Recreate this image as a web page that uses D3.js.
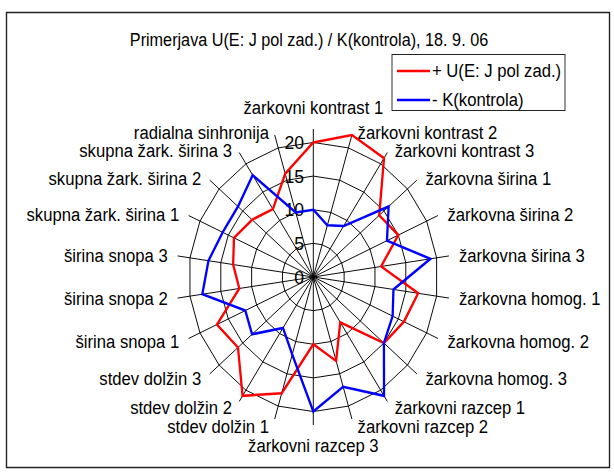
<!DOCTYPE html>
<html>
<head>
<meta charset="utf-8">
<script src="https://cdn.jsdelivr.net/npm/d3@7/dist/d3.min.js"></script>
<style>
  body { margin: 0; background: #fff; }
  text { font-family: "Liberation Sans", Arial, sans-serif; fill: #000; }
</style>
</head>
<body>
<script>

var categories = [
    "žarkovni kontrast 1", "žarkovni kontrast 2", "žarkovni kontrast 3",
    "žarkovna širina 1", "žarkovna širina 2", "žarkovna širina 3",
    "žarkovna homog. 1", "žarkovna homog. 2", "žarkovna homog. 3",
    "žarkovni razcep 1", "žarkovni razcep 2", "žarkovni razcep 3",
    "stdev dolžin 1", "stdev dolžin 2", "stdev dolžin 3",
    "širina snopa 1", "širina snopa 2", "širina snopa 3",
    "skupna žark. širina 1", "skupna žark. širina 2", "skupna žark. širina 3",
    "radialna sinhronija"
];

var seriesU = [20, 22, 21, 14, 15, 11, 17, 16, 15, 8, 13, 10, 18, 21, 16, 17, 12, 13, 14, 13, 12, 16];
var seriesK = [10, 8, 9, 16, 13, 19, 13, 14, 15, 21, 17, 20, 12, 9, 13, 12, 18, 17, 16, 16, 18, 10];

var seriesNames = ["+ U(E: J pol zad.)", "- K(kontrola)"];
var seriesColors = ["#ff0000", "#0000ff"];

var tickValues = [0, 5, 10, 15, 20];
var axisMax = 22;

var titleText = "Primerjava U(E: J pol zad.) / K(kontrola), 18. 9. 06";

// the picture is squeezed sideways, so everything is drawn in a group scaled on x
var kx = 0.926;
var width = 614, height = 472;
function X(screenX) { return screenX / kx; }

var svg = d3.select("body").append("svg")
    .attr("width", width)
    .attr("height", height);

var root = svg.append("g")
    .attr("transform", "scale(" + kx + ",1)");

// frame
root.append("rect")
    .attr("x", X(6.5)).attr("y", 12.5)
    .attr("width", X(609.5) - X(6.5)).attr("height", 455)
    .attr("fill", "#fff")
    .attr("stroke", "#222")
    .attr("stroke-width", 1.5);

root.append("text")
    .attr("x", X(309)).attr("y", 40)
    .attr("text-anchor", "middle")
    .attr("dominant-baseline", "central")
    .style("font-size", "17.5px")
    .text(titleText);

// radar
var cx = X(313.3), cy = 277;
var r = d3.scaleLinear().domain([0, axisMax]).range([0, 148]);
var n = categories.length;
var angle = d3.scaleLinear().domain([0, n]).range([0, 2 * Math.PI]);

function px(i, v) { return Math.sin(angle(i)) * r(v); }
function py(i, v) { return -Math.cos(angle(i)) * r(v); }

var chart = root.append("g")
    .attr("transform", "translate(" + cx + "," + cy + ")");

// gridlines only at the major ticks, spokes run on to the axis max
chart.selectAll(".ring")
    .data(tickValues.slice(1))
    .enter().append("polygon")
    .attr("class", "ring")
    .attr("fill", "none")
    .attr("stroke", "#000")
    .attr("stroke-width", 1)
    .attr("points", function (v) {
        return d3.range(n).map(function (i) { return px(i, v) + "," + py(i, v); }).join(" ");
    });

chart.selectAll(".spoke")
    .data(categories)
    .enter().append("line")
    .attr("class", "spoke")
    .attr("stroke", "#000")
    .attr("stroke-width", 1)
    .attr("x1", 0).attr("y1", 0)
    .attr("x2", function (d, i) { return px(i, axisMax); })
    .attr("y2", function (d, i) { return py(i, axisMax); });

chart.selectAll(".tick")
    .data(tickValues)
    .enter().append("text")
    .attr("class", "tick")
    .attr("x", X(304) - cx)
    .attr("y", function (v) { return -r(v); })
    .attr("text-anchor", "end")
    .attr("dominant-baseline", "central")
    .style("font-size", "19px")
    .text(function (v) { return v; });

var line = d3.line()
    .x(function (v, i) { return px(i, v); })
    .y(function (v, i) { return py(i, v); })
    .curve(d3.curveLinearClosed);

chart.selectAll(".series")
    .data([seriesU, seriesK])
    .enter().append("path")
    .attr("class", "series")
    .attr("fill", "none")
    .attr("stroke", function (d, i) { return seriesColors[i]; })
    .attr("stroke-width", 2.5)
    .attr("stroke-linejoin", "miter")
    .attr("d", line);

chart.selectAll(".catlabel")
    .data(categories)
    .enter().append("text")
    .attr("class", "catlabel")
    .style("font-size", "18px")
    .attr("dominant-baseline", "central")
    .attr("text-anchor", function (d, i) {
        var s = Math.sin(angle(i));
        if (Math.abs(s) < 0.01) return "middle";
        return s > 0 ? "start" : "end";
    })
    .attr("x", function (d, i) {
        var s = Math.sin(angle(i));
        if (Math.abs(s) < 0.01) return 0;
        var gap = 4 + 6 * Math.abs(s);
        return px(i, axisMax) + (s > 0 ? 1 : -1) * gap / kx;
    })
    .attr("y", function (d, i) {
        var c = Math.cos(angle(i));
        var s = Math.sin(angle(i));
        if (Math.abs(s) < 0.01) return py(i, axisMax) + (c > 0 ? -21 : 21);
        return py(i, axisMax) + (c < 0 ? -c * 8 : -c * 2.5);
    })
    .text(function (d) { return d; });

// legend
var legend = root.append("g");
legend.append("rect")
    .attr("x", X(392)).attr("y", 54.5)
    .attr("width", X(565) - X(392)).attr("height", 56)
    .attr("fill", "#fff")
    .attr("stroke", "#222")
    .attr("stroke-width", 1);

var legendRows = [71, 100];
seriesNames.forEach(function (name, i) {
    legend.append("line")
        .attr("x1", X(397)).attr("x2", X(430))
        .attr("y1", legendRows[i]).attr("y2", legendRows[i])
        .attr("stroke", seriesColors[i])
        .attr("stroke-width", 2.5);
    legend.append("text")
        .attr("x", X(432)).attr("y", legendRows[i])
        .attr("dominant-baseline", "central")
        .style("font-size", "18px")
        .text(name);
});

</script>
</body>
</html>
